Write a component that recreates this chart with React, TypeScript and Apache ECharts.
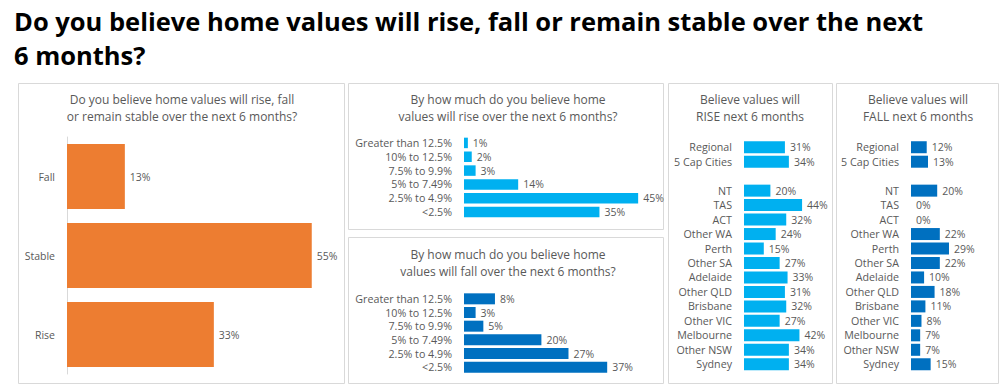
import React, { useEffect, useRef } from "react";
import * as echarts from "echarts";

const mainTitle1 = "Do you believe home values will rise, fall or remain stable over the next";
const mainTitle2 = "6 months?";

const overallTitle = "Do you believe home values will rise, fall\nor remain stable over the next 6 months?";
const overallCats = ["Fall", "Stable", "Rise"];
const overallVals = [13, 55, 33];

const riseAmountTitle = "By how much do you believe home\nvalues will rise over the next 6 months?";
const fallAmountTitle = "By how much do you believe home\nvalues will fall over the next 6 months?";
const amountCats = ["Greater than 12.5%", "10% to 12.5%", "7.5% to 9.9%", "5% to 7.49%", "2.5% to 4.9%", "<2.5%"];
const riseAmountVals = [1, 2, 3, 14, 45, 35];
const fallAmountVals = [8, 3, 5, 20, 27, 37];

const regionRiseTitle = "Believe values will\nRISE next 6 months";
const regionFallTitle = "Believe values will\nFALL next 6 months";
const regionCats = ["Regional", "5 Cap Cities", "", "NT", "TAS", "ACT", "Other WA", "Perth", "Other SA", "Adelaide", "Other QLD", "Brisbane", "Other VIC", "Melbourne", "Other NSW", "Sydney"];
const regionRiseVals: (number | string)[] = [31, 34, "-", 20, 44, 32, 24, 15, 27, 33, 31, 32, 27, 42, 34, 34];
const regionFallVals: (number | string)[] = [12, 13, "-", 20, 0, 0, 22, 29, 22, 10, 18, 11, 8, 7, 7, 15];

const FONT = "'Open Sans', Lato, sans-serif";
const GRAY = "#595959";
const ORANGE = "#ED7D31";
const LIGHT = "#00B0F0";
const DARK = "#0070C0";
const BORDER = "#D9D9D9";

export default function App() {
  const ref = useRef<HTMLDivElement>(null);
  useEffect(() => {
    document.body.style.margin = "0";
    if (!ref.current) return;
    const chart = echarts.init(ref.current, undefined, { renderer: "svg" });

    const grids = [
      { left: 67, top: 137, width: 267, height: 237 },
      { left: 464, top: 136, width: 193.5, height: 83 },
      { left: 464, top: 292, width: 193.5, height: 82 },
      { left: 744, top: 140, width: 66, height: 231.5 },
      { left: 911, top: 140, width: 65.5, height: 231.5 },
    ];
    const maxes = [60, 50, 50, 50, 50];
    const cats = [overallCats, amountCats, amountCats, regionCats, regionCats];
    const vals = [overallVals, riseAmountVals, fallAmountVals, regionRiseVals, regionFallVals];
    const colors = [ORANGE, LIGHT, DARK, LIGHT, DARK];
    const barWidths = [65, 10.5, 11, 12, 12];
    const labelSizes = [10.5, 10.7, 10.7, 10.7, 10.7];

    const panelTitle = (text: string, x: number, y: number) => ({
      type: "text",
      x,
      y,
      style: {
        text,
        fill: GRAY,
        font: `12px ${FONT}`,
        textAlign: "center",
        textVerticalAlign: "top",
        lineHeight: 17,
      },
    });
    const panelRect = (x: number, y: number, w: number, h: number) => ({
      type: "rect",
      shape: { x: x + 0.5, y: y + 0.5, width: w, height: h },
      style: { fill: "none", stroke: BORDER, lineWidth: 1 },
    });

    chart.setOption({
      animation: false,
      grid: grids.map((g) => ({ ...g, containLabel: false, outerBoundsMode: "none" })),
      xAxis: grids.map((_, i) => ({
        type: "value",
        gridIndex: i,
        min: 0,
        max: maxes[i],
        show: false,
        splitLine: { show: false },
      })),
      yAxis: grids.map((_, i) => ({
        type: "category",
        gridIndex: i,
        data: cats[i],
        inverse: true,
        axisTick: { show: false },
        axisLine: { show: i === 0, lineStyle: { color: BORDER } },
        axisLabel: {
          color: GRAY,
          fontFamily: FONT,
          fontSize: labelSizes[i],
          margin: 12,
          interval: 0,
        },
      })),
      series: grids.map((_, i) => ({
        type: "bar",
        xAxisIndex: i,
        yAxisIndex: i,
        data: vals[i],
        barWidth: barWidths[i],
        itemStyle: { color: colors[i] },
        label: {
          show: true,
          position: "right",
          distance: 5,
          formatter: "{c}%",
          color: GRAY,
          fontFamily: FONT,
          fontSize: 10.5,
        },
      })),
      graphic: [
        panelRect(18, 83, 326, 300),
        panelRect(348, 83, 315, 146),
        panelRect(348, 237, 315, 146),
        panelRect(668, 83, 164, 300),
        panelRect(836, 83, 162, 300),
        panelTitle(overallTitle, 182, 91),
        panelTitle(riseAmountTitle, 508, 91),
        panelTitle(fallAmountTitle, 508, 246),
        panelTitle(regionRiseTitle, 750, 91),
        panelTitle(regionFallTitle, 918, 91),
        {
          type: "text",
          x: 14,
          y: 21,
          style: { text: mainTitle1, fill: "#000", font: `bold 25.5px ${FONT}`, textVerticalAlign: "middle" },
        },
        {
          type: "text",
          x: 14,
          y: 55,
          style: { text: mainTitle2, fill: "#000", font: `bold 25.5px ${FONT}`, textVerticalAlign: "middle" },
        },
      ],
    });
    return () => chart.dispose();
  }, []);
  return <div ref={ref} style={{ width: 1005, height: 392 }} />;
}
